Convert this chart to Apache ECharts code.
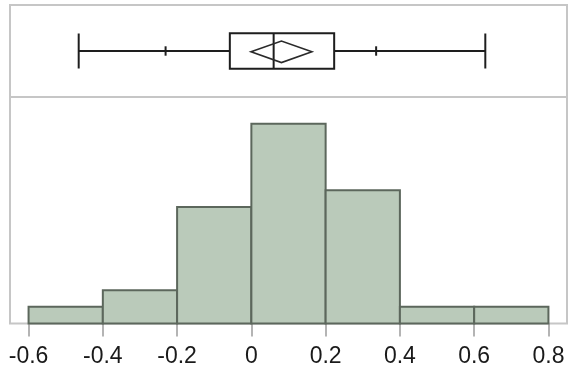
<!DOCTYPE html>
<html>
<head>
<meta charset="utf-8">
<script src="https://cdn.jsdelivr.net/npm/echarts@6/dist/echarts.min.js"></script>
<style>
html,body{margin:0;padding:0;background:#fff;}
#chart{width:570px;height:371px;}
</style>
</head>
<body>
<div id="chart"></div>
<script>
// Histogram bins
const binStarts = [-0.6, -0.4, -0.2, 0, 0.2, 0.4, 0.6];
const binEnds   = [-0.4, -0.2, 0, 0.2, 0.4, 0.6, 0.8];
const counts    = [1, 2, 7, 12, 8, 1, 1];
// Quantile box plot: min, 10%, Q1, median, Q3, 90%, max
const boxStats  = [-0.465, -0.231, -0.058, 0.060, 0.223, 0.336, 0.630];
// Mean diamond: lower 95% CI, mean, upper 95% CI
const meanCI    = [-0.001, 0.081, 0.163];
// Axis ticks
const tickValues = [-0.6, -0.4, -0.2, 0, 0.2, 0.4, 0.6, 0.8];

const histData = binStarts.map((s, i) => [s, binEnds[i], counts[i]]);
const boxData = [[...boxStats, ...meanCI]];

const chart = echarts.init(document.getElementById('chart'), null, {renderer: 'canvas'});
const frameColor = '#c6c6c6';
const ink = '#1e1e1e';

chart.setOption({
  animation: false,
  backgroundColor: '#ffffff',
  grid: [
    {left: 10, right: 3, top: 5, height: 92, show: true, borderColor: frameColor, borderWidth: 2, backgroundColor: 'transparent'},
    {left: 10, right: 3, top: 97, bottom: 47.5, show: true, borderColor: frameColor, borderWidth: 2, backgroundColor: 'transparent'}
  ],
  xAxis: [
    {gridIndex: 0, type: 'value', min: -0.65, max: 0.85, show: false},
    {gridIndex: 1, type: 'value', min: -0.65, max: 0.85,
      axisLine: {show: false},
      splitLine: {show: false},
      axisTick: {show: true, customValues: tickValues, length: 13, lineStyle: {color: '#b4b4b4', width: 2}},
      axisLabel: {show: true, customValues: tickValues, margin: 22, fontSize: 23,
        fontFamily: 'Liberation Sans', color: '#1a1a1a',
        formatter: v => String(v)}
    }
  ],
  yAxis: [
    {gridIndex: 0, type: 'value', min: 0, max: 1, show: false},
    {gridIndex: 1, type: 'value', min: 0, max: 13.6, show: false}
  ],
  series: [
    {
      type: 'custom', xAxisIndex: 1, yAxisIndex: 1, data: histData,
      renderItem: function (params, api) {
        const a = api.coord([api.value(0), api.value(2)]);
        const b = api.coord([api.value(1), 0]);
        return {
          type: 'rect',
          shape: {x: a[0], y: a[1], width: b[0] - a[0], height: b[1] - a[1]},
          style: {fill: '#bacaba', stroke: '#5c675c', lineWidth: 2}
        };
      }
    },
    {
      type: 'custom', xAxisIndex: 0, yAxisIndex: 0, data: boxData,
      renderItem: function (params, api) {
        const X = i => api.coord([api.value(i), 0.5])[0];
        const cy = api.coord([0, 0.5])[1];
        const mn = X(0), p10 = X(1), q1 = X(2), md = X(3), q3 = X(4), p90 = X(5), mx = X(6);
        const lo = X(7), mean = X(8), hi = X(9);
        const st = {stroke: ink, lineWidth: 2, fill: null};
        const line = (x1, y1, x2, y2, s) => ({type: 'line', shape: {x1, y1, x2, y2}, style: s || st});
        const bh = 17.8, ch = 17.5, th = 4.7, dh = 10.8, dy = cy + 0.8;
        return {
          type: 'group',
          children: [
            line(mn, cy, q1, cy),
            line(q3, cy, mx, cy),
            line(mn, cy - ch, mn, cy + ch),
            line(mx, cy - ch, mx, cy + ch),
            line(p10, cy - th, p10, cy + th),
            line(p90, cy - th, p90, cy + th),
            {type: 'rect', shape: {x: q1, y: cy - bh, width: q3 - q1, height: 2 * bh}, style: {stroke: ink, lineWidth: 2, fill: 'transparent'}},
            line(md, cy - bh, md, cy + bh),
            {type: 'polygon', shape: {points: [[lo, dy], [mean, dy - dh], [hi, dy], [mean, dy + dh]]},
              style: {stroke: '#2a2a2a', lineWidth: 1.6, fill: 'transparent'}}
          ]
        };
      }
    }
  ]
});
</script>
</body>
</html>
